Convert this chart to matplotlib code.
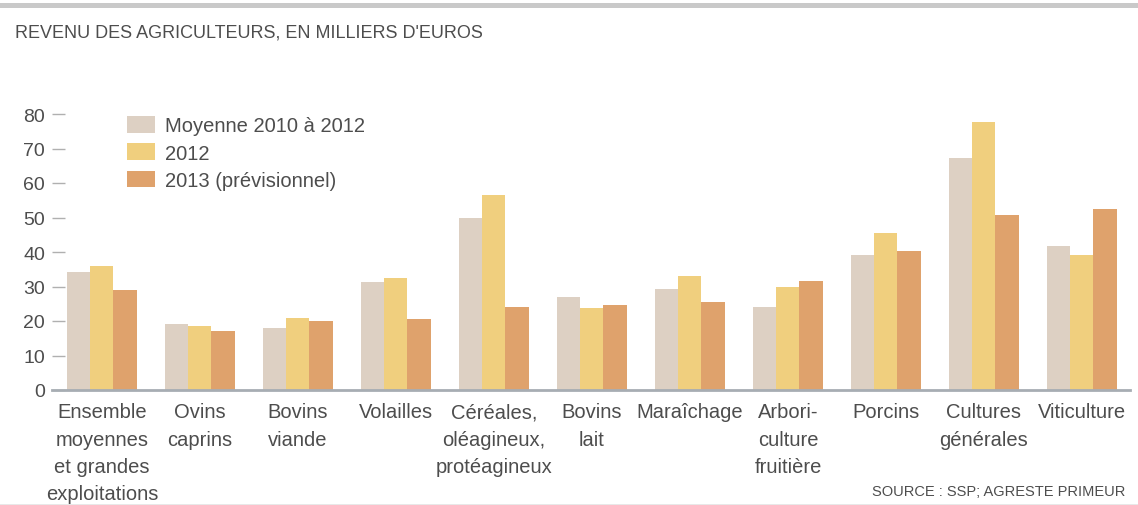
import matplotlib
matplotlib.use("Agg")
import matplotlib.pyplot as plt
from matplotlib.patches import Patch
import numpy as np

plt.rcParams["font.family"] = ["Liberation Sans Narrow", "Liberation Sans", "DejaVu Sans"]

categories = [
    "Ensemble\nmoyennes\net grandes\nexploitations",
    "Ovins\ncaprins",
    "Bovins\nviande",
    "Volailles",
    "Céréales,\noléagineux,\nprotéagineux",
    "Bovins\nlait",
    "Maraîchage",
    "Arbori-\nculture\nfruitière",
    "Porcins",
    "Cultures\ngénérales",
    "Viticulture",
]
moyenne_2010_2012 = [34.2, 19.0, 18.0, 31.3, 50.0, 27.0, 29.3, 24.0, 39.0, 67.2, 41.7]
revenu_2012 = [36.0, 18.5, 21.0, 32.5, 56.5, 23.8, 33.0, 29.8, 45.5, 77.7, 39.0]
revenu_2013 = [29.0, 17.0, 20.0, 20.6, 24.0, 24.6, 25.5, 31.6, 40.3, 50.7, 52.5]
series_labels = ["Moyenne 2010 à 2012", "2012", "2013 (prévisionnel)"]
colors = ["#ddd0c3", "#f0cf7e", "#dfa26c"]
text_col = "#4d4d4d"

W, H = 1138, 506
fig = plt.figure(figsize=(W / 100, H / 100), dpi=100)

# bande grise en haut, filet en bas
fig.add_artist(plt.Rectangle((0, 1 - 9 / H), 1, 5 / H, transform=fig.transFigure,
                             color="#c9c9c9", lw=0))
fig.add_artist(plt.Rectangle((0, 0), 1, 1.5 / H, transform=fig.transFigure,
                             color="#e8e8e8", lw=0, zorder=0))
fig.text(15 / W, 1 - 33 / H, "REVENU DES AGRICULTEURS, EN MILLIERS D'EUROS",
         fontsize=13, color=text_col, va="center", ha="left")

ax = fig.add_axes([52 / W, (H - 391) / H, (1130 - 52) / W, 276 / H])
x = np.arange(len(categories))
w = 0.235
for k, vals in enumerate([moyenne_2010_2012, revenu_2012, revenu_2013]):
    ax.bar(x + (k - 1) * w, vals, width=w, color=colors[k], linewidth=0)

ax.set_xlim(-0.51, 10.49)
ax.set_ylim(0, 80)
ax.set_yticks(np.arange(0, 81, 10))
ax.tick_params(axis="y", direction="in", length=9, width=1, color="#b0b0b0",
               labelsize=14, labelcolor=text_col, pad=5)
ax.set_xticks(x)
ax.set_xticklabels(categories, linespacing=1.55)
ax.tick_params(axis="x", length=0, labelsize=14.5, labelcolor=text_col, pad=9)
for s in ["top", "right", "left"]:
    ax.spines[s].set_visible(False)
ax.spines["bottom"].set_color("#a7adb3")
ax.spines["bottom"].set_linewidth(2)

handles = [Patch(facecolor=c, edgecolor="none") for c in colors]
fig.legend(handles, series_labels, loc="upper left",
           bbox_to_anchor=(127 / W, 1 - 117 / H), frameon=False, fontsize=14.5,
           borderpad=0, borderaxespad=0,
           handlelength=1.4, handleheight=0.9, handletextpad=0.5,
           labelspacing=0.4, labelcolor=text_col)

fig.text(1125 / W, 1 - 492 / H, "SOURCE : SSP; AGRESTE PRIMEUR",
         fontsize=10.5, color=text_col, ha="right", va="center")

fig.savefig("out.png", dpi=100, facecolor="white")
